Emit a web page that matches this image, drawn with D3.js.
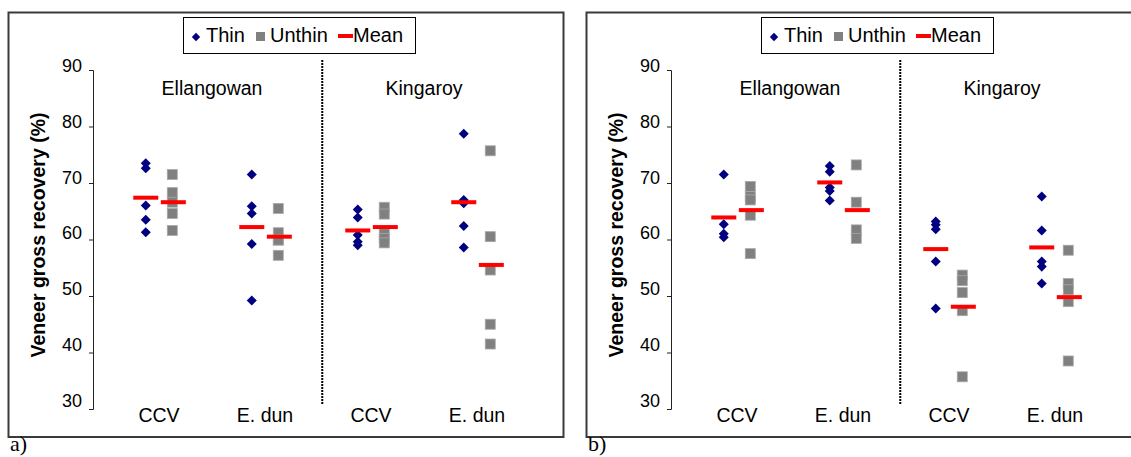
<!DOCTYPE html>
<html>
<head>
<meta charset="utf-8">
<script src="https://cdn.jsdelivr.net/npm/d3@7"></script>
<style>
  body { margin: 0; background: #fff; }
  svg text { font-family: "Liberation Sans", Arial, sans-serif; }
</style>
</head>
<body>
<div id="chart"></div>
<script>
// categories and labels
var groups = ["CCV", "E. dun", "CCV", "E. dun"];
var sites = ["Ellangowan", "Kingaroy"];
var yTicks = [30, 40, 50, 60, 70, 80, 90];
var legendNames = ["Thin", "Unthin", "Mean"];
var panelNames = ["a)", "b)"];

// panel a values (%)
var thinA = [[73.5, 72.6, 66.0, 63.5, 61.3], [71.5, 65.9, 64.6, 59.2, 49.2], [65.3, 63.9, 60.8, 59.6, 59.0], [78.7, 67.0, 66.4, 62.4, 58.6]];
var unthinA = [[71.5, 68.3, 66.6, 64.6, 61.6], [65.5, 61.2, 59.9, 59.9, 57.2], [65.7, 64.5, 61.0, 60.2, 59.4], [75.7, 60.5, 54.6, 45.0, 41.5]];
var meanThinA = [67.4, 62.2, 61.6, 66.6];
var meanUnthinA = [66.6, 60.5, 62.2, 55.5];

// panel b values (%)
var thinB = [[71.5, 62.7, 61.0, 60.4], [73.0, 72.0, 69.2, 68.6, 66.9], [63.2, 62.6, 61.8, 56.1, 47.8], [67.6, 61.6, 56.1, 55.2, 52.2]];
var unthinB = [[69.4, 67.6, 67.0, 64.3, 57.5], [73.2, 66.6, 61.7, 60.2], [53.7, 52.7, 50.6, 47.4, 35.7], [58.1, 52.2, 51.1, 49.0, 38.5]];
var meanThinB = [63.9, 70.1, 58.3, 58.6];
var meanUnthinB = [65.2, 65.2, 48.1, 49.8];

var panels = [
    { thin: thinA, unthin: unthinA, mThin: meanThinA, mUnthin: meanUnthinA, dx: 0 },
    { thin: thinB, unthin: unthinB, mThin: meanThinB, mUnthin: meanUnthinB, dx: 578 }
];

var width = 1131, height = 457;
var svg = d3.select("#chart").append("svg")
    .attr("width", width)
    .attr("height", height);

var y = d3.scaleLinear().domain([30, 90]).range([409, 70]);

panels.forEach(function(p, pi) {
    var g = svg.append("g").attr("transform", "translate(" + p.dx + ",0)");
    var x = d3.scaleLinear().domain([0.377, 4.5]).range([93, 530]);

    // frame
    g.append("rect")
        .attr("x", 8.5).attr("y", 12.5)
        .attr("width", 555).attr("height", 424.5)
        .attr("fill", "none").attr("stroke", "#3a3a3a").attr("stroke-width", 2);

    // y axis
    var axis = g.append("g")
        .attr("transform", "translate(" + x(0.377) + ",0)")
        .call(d3.axisLeft(y).tickValues(yTicks).tickSize(4).tickPadding(7));
    axis.select(".domain").attr("stroke", "#222");
    axis.selectAll(".tick line").attr("stroke", "#222");
    // labels sit a little above their ticks, more so near the bottom
    axis.selectAll(".tick text")
        .attr("dy", 0)
        .attr("y", function(d) { return 1.6 - (90 - d) / 60 * 4.6; })
        .style("font-size", "18px")
        .attr("fill", "#000");

    g.append("text")
        .attr("transform", "translate(45,235) rotate(-90)")
        .attr("text-anchor", "middle")
        .style("font-size", "19.5px")
        .style("font-weight", "bold")
        .text("Veneer gross recovery (%)");

    // divider between sites
    g.append("line")
        .attr("x1", x(2.54)).attr("x2", x(2.54))
        .attr("y1", 60).attr("y2", 405)
        .attr("stroke", "#000").attr("stroke-width", 2)
        .attr("stroke-dasharray", "2,1");

    // site labels
    g.selectAll(".site").data(sites).enter().append("text")
        .attr("x", function(d, i) { return x(1.5 + 2 * i); })
        .attr("y", 95)
        .attr("text-anchor", "middle")
        .style("font-size", "19.5px")
        .text(function(d) { return d; });

    // category labels
    g.selectAll(".cat").data(groups).enter().append("text")
        .attr("x", function(d, i) { return x(i + 1); })
        .attr("y", 422)
        .attr("text-anchor", "middle")
        .style("font-size", "19.5px")
        .text(function(d) { return d; });

    // points
    var thinPts = [], unthinPts = [];
    p.thin.forEach(function(arr, i) { arr.forEach(function(v) { thinPts.push({ i: i, v: v }); }); });
    p.unthin.forEach(function(arr, i) { arr.forEach(function(v) { unthinPts.push({ i: i, v: v }); }); });

    g.selectAll(".sq").data(unthinPts).enter().append("rect")
        .attr("x", function(d) { return x(d.i + 1.125) - 5; })
        .attr("y", function(d) { return y(d.v) - 5; })
        .attr("width", 10).attr("height", 10)
        .attr("fill", "#808080")
        .attr("stroke", "#a8a8a8").attr("stroke-width", 0.8);

    g.selectAll(".dm").data(thinPts).enter().append("path")
        .attr("d", d3.symbol(d3.symbolDiamond2, 64))
        .attr("transform", function(d) { return "translate(" + x(d.i + 0.875) + "," + y(d.v) + ")"; })
        .attr("fill", "#000080");

    // means
    var means = [];
    p.mThin.forEach(function(v, i) { means.push({ c: i + 0.875, v: v }); });
    p.mUnthin.forEach(function(v, i) { means.push({ c: i + 1.135, v: v }); });
    g.selectAll(".mean").data(means).enter().append("rect")
        .attr("x", function(d) { return x(d.c) - 12.5; })
        .attr("y", function(d) { return y(d.v) - 2; })
        .attr("width", 25).attr("height", 4)
        .attr("fill", "#ff0000");

    // legend
    var lg = g.append("g");
    lg.append("rect")
        .attr("x", 183.5).attr("y", 17.5)
        .attr("width", 232).attr("height", 36)
        .attr("fill", "#fff").attr("stroke", "#000").attr("stroke-width", 1);
    lg.append("path")
        .attr("d", d3.symbol(d3.symbolDiamond2, 45))
        .attr("transform", "translate(196,37)")
        .attr("fill", "#000080");
    lg.append("rect")
        .attr("x", 256).attr("y", 32).attr("width", 9).attr("height", 9)
        .attr("fill", "#808080");
    lg.append("rect")
        .attr("x", 338).attr("y", 34).attr("width", 15).attr("height", 4)
        .attr("fill", "#ff0000");
    var lx = [206, 270, 353];
    lg.selectAll(".lt").data(legendNames).enter().append("text")
        .attr("x", function(d, i) { return lx[i]; })
        .attr("y", 42)
        .style("font-size", "20px")
        .text(function(d) { return d; });

    // panel label
    g.append("text")
        .attr("x", 10).attr("y", 451)
        .style("font-family", "'Liberation Serif', 'Times New Roman', serif")
        .style("font-size", "22px")
        .text(panelNames[pi]);
});
</script>
</body>
</html>
